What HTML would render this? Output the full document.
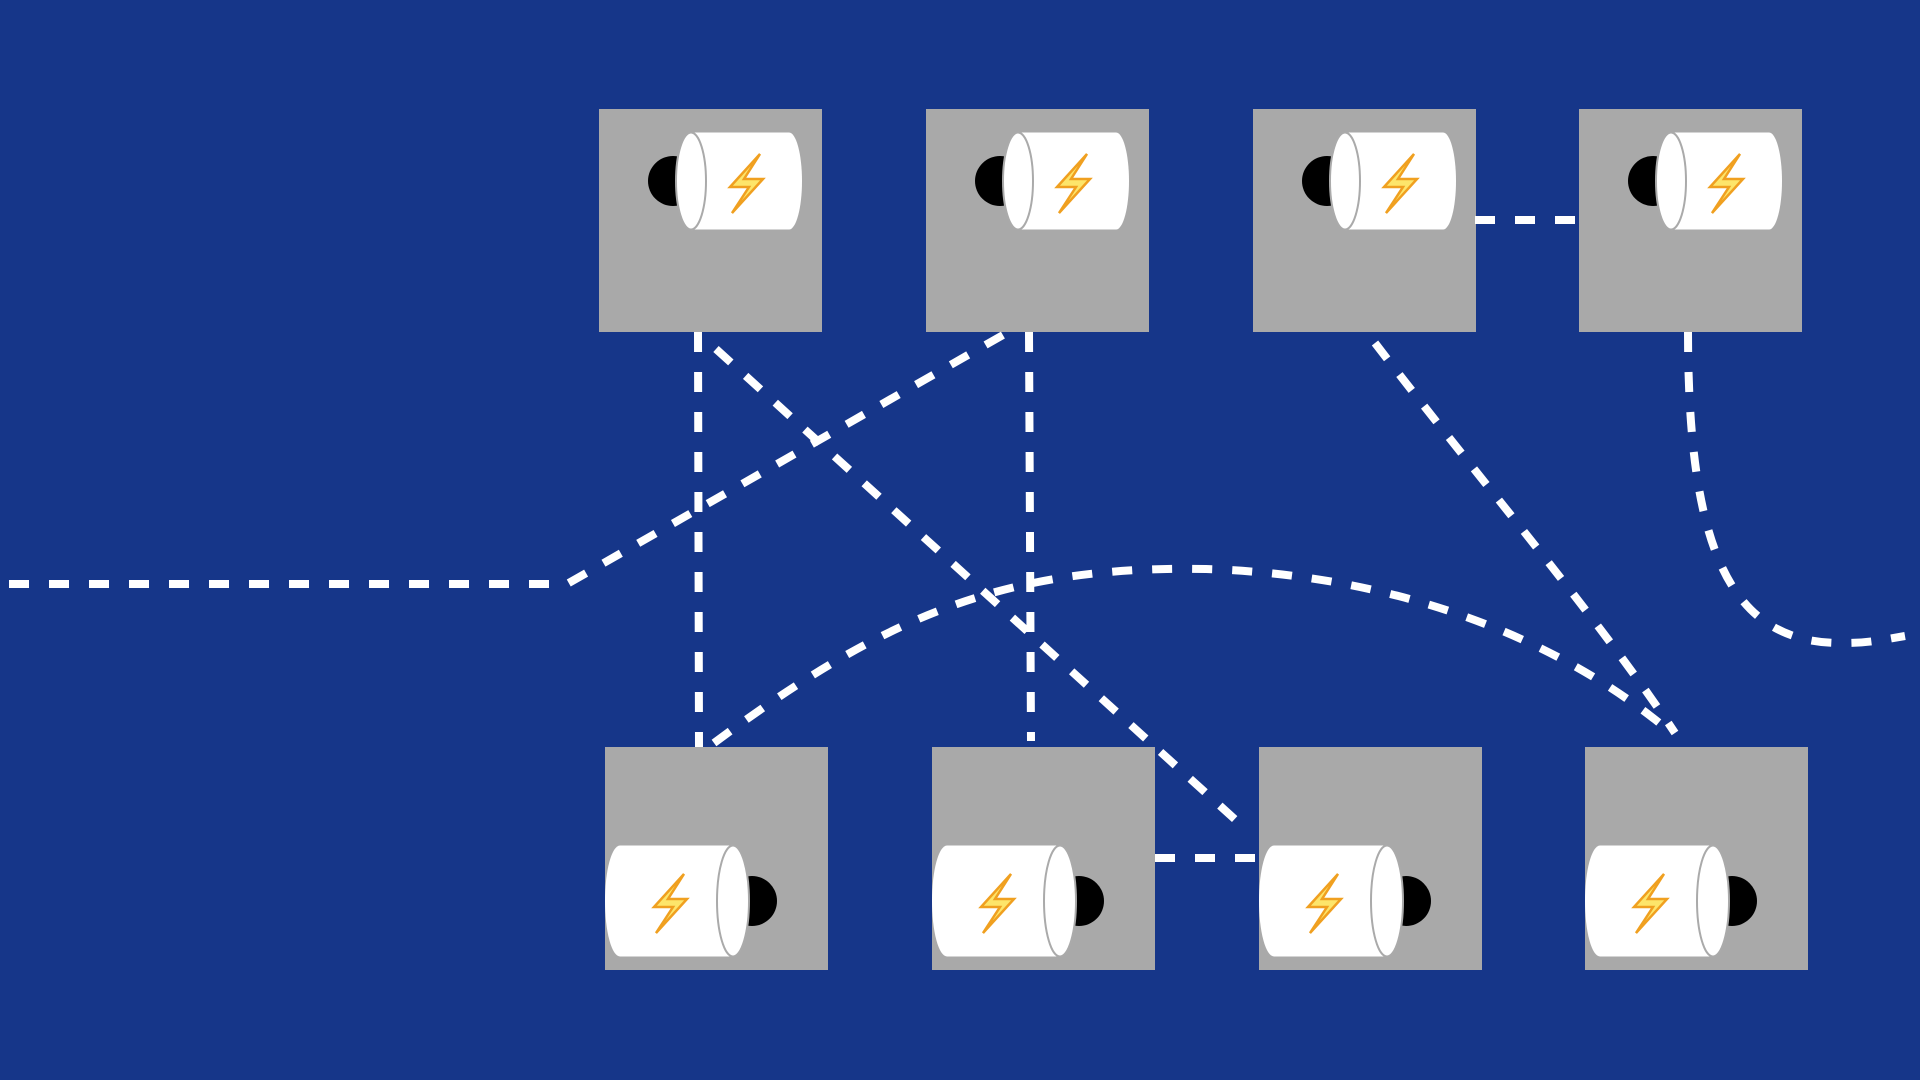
<!DOCTYPE html>
<html><head><meta charset="utf-8"><style>
html,body{margin:0;padding:0;background:#163689;}
svg{display:block}
</style></head><body>
<svg width="1920" height="1080" viewBox="0 0 1920 1080" xmlns="http://www.w3.org/2000/svg">
<defs>
<g id="bolt">
<polygon points="15,-29 -15,4 4,4 -13,30 18,-4 -1,-4" fill="#fde56a" stroke="#f0a020" stroke-width="2.5" stroke-linejoin="miter"/>
</g>
<g id="topbat">
<circle cx="74" cy="72" r="25" fill="#000"/>
<ellipse cx="190" cy="72" rx="13" ry="48.5" fill="#fff"/>
<rect x="92" y="23.5" width="98" height="97" fill="#fff"/>
<ellipse cx="92" cy="72" rx="15" ry="48.5" fill="#fff" stroke="#aaa" stroke-width="2"/>
<use href="#bolt" x="146" y="74"/>
</g>
<g id="botbat">
<circle cx="147" cy="154" r="25" fill="#000"/>
<ellipse cx="15" cy="154" rx="15" ry="55.5" fill="#fff"/>
<rect x="15" y="98.5" width="113" height="111" fill="#fff"/>
<ellipse cx="128" cy="154" rx="16" ry="55.5" fill="#fff" stroke="#aaa" stroke-width="2"/>
<use href="#bolt" x="64" y="156"/>
</g>
</defs>
<rect width="1920" height="1080" fill="#163689"/>
<g fill="#a9a9a9">
<rect x="599" y="109" width="223" height="223"/>
<rect x="926" y="109" width="223" height="223"/>
<rect x="1253" y="109" width="223" height="223"/>
<rect x="1579" y="109" width="223" height="223"/>
<rect x="605" y="747" width="223" height="223"/>
<rect x="932" y="747" width="223" height="223"/>
<rect x="1259" y="747" width="223" height="223"/>
<rect x="1585" y="747" width="223" height="223"/>
</g>
<g fill="none" stroke="#fff" stroke-width="8" stroke-dasharray="20 20">
<path d="M9,584 L567,584 L1010,331"/>
<path d="M698,332 L699,747"/>
<path d="M716,349 L1239,823"/>
<path d="M1029,332 L1031,741"/>
<path d="M714,743 C880,620 1000,565 1206,569 C1400,575 1560,640 1668,730"/>
<path d="M1375,343 C1480,480 1600,620 1675,733"/>
<path d="M1475,220 L1579,220"/>
<path d="M1688,332 C1688,560 1735,645 1845,643 C1868,643 1882,640 1905,636"/>
<path d="M1155,858 L1259,858"/>
</g>
<use href="#topbat" x="599" y="109"/>
<use href="#topbat" x="926" y="109"/>
<use href="#topbat" x="1253" y="109"/>
<use href="#topbat" x="1579" y="109"/>
<use href="#botbat" x="605" y="747"/>
<use href="#botbat" x="932" y="747"/>
<use href="#botbat" x="1259" y="747"/>
<use href="#botbat" x="1585" y="747"/>
</svg>
</body></html>
